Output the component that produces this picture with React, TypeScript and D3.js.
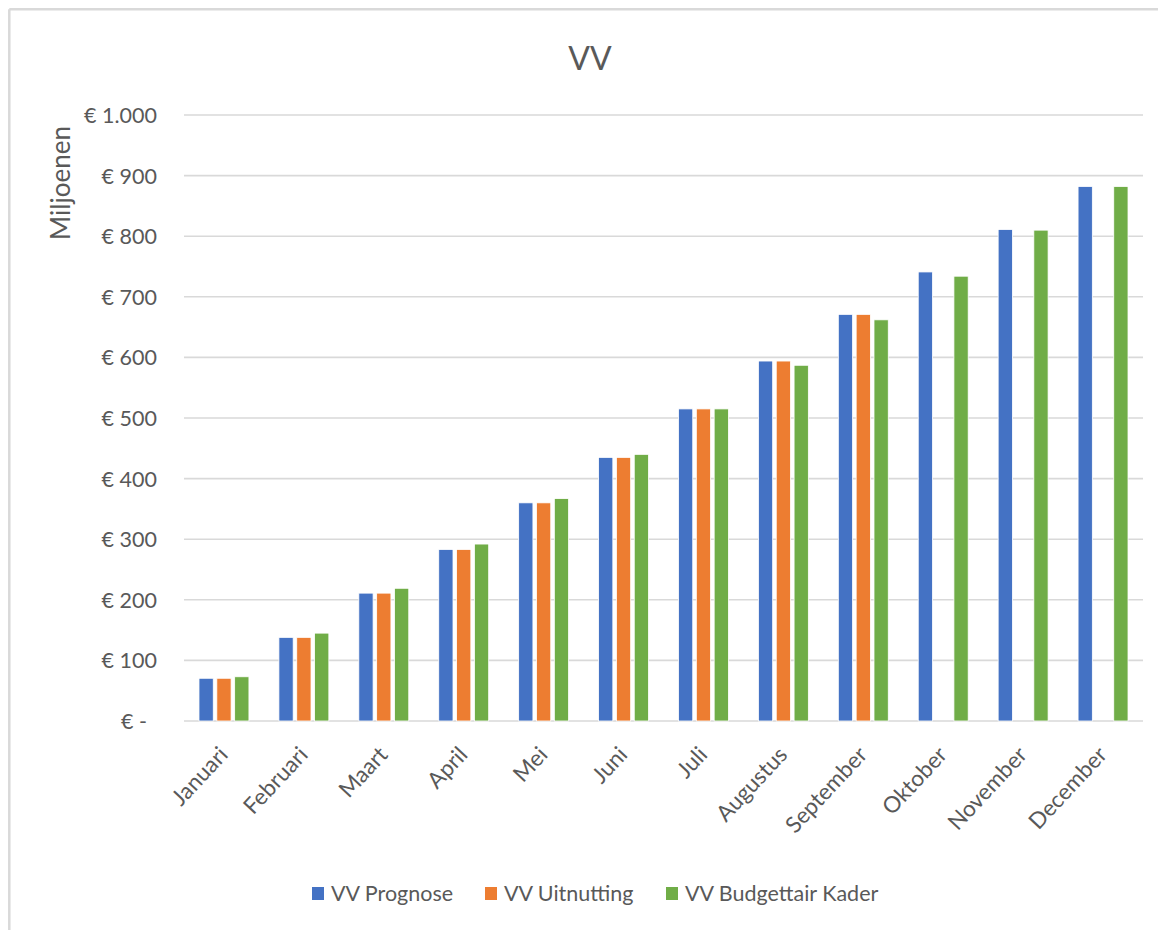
import React from "react";
import * as d3 from "d3";

const months = ["Januari","Februari","Maart","April","Mei","Juni","Juli","Augustus","September","Oktober","November","December"];
const seriesNames = ["VV Prognose","VV Uitnutting","VV Budgettair Kader"];
const prognose = [70.5, 138, 211, 283, 360, 435, 515, 594, 671, 741, 811, 882];
const uitnutting: (number | null)[] = [70.5, 138, 211, 283, 360, 435, 515, 594, 671, null, null, null];
const kader = [73, 145, 219, 292, 367, 440, 515, 587, 662, 734, 810, 882];
const yTicks = [0, 100, 200, 300, 400, 500, 600, 700, 800, 900, 1000];
const colors = ["#4472C4", "#ED7D31", "#70AD47"];

const W = 1158, H = 930;
const FONT = "Lato, 'Open Sans', sans-serif";
const TEXT = "#595959";

function fmt(v: number) {
  if (v === 0) return "€ -";
  return "€ " + d3.format(",")(v).replace(/,/g, ".");
}

export default function App() {
  const x = d3.scaleBand<string>().domain(months).range([184, 1143]).paddingInner(0.375).paddingOuter(0.1875);
  const xs = d3.scaleBand<string>().domain(seriesNames).range([0, x.bandwidth()]).paddingInner(0.2).paddingOuter(0);
  const y = d3.scaleLinear().domain([0, 1000]).range([721, 115]);
  const data = [prognose, uitnutting, kader];

  const legendX = [312, 485, 666];

  return (
    <svg width={W} height={H} style={{ position: "absolute", left: 0, top: 0, background: "#fff" }}>
      <rect x={0} y={0} width={W} height={H} fill="#fff" />
      <line x1={9.3} y1={9.3} x2={W} y2={9.3} stroke="#d9d9d9" strokeWidth={2.5} />
      <line x1={9.3} y1={9.3} x2={9.3} y2={H} stroke="#d9d9d9" strokeWidth={2.5} />
      <text x={590} y={57} textAnchor="middle" dominantBaseline="central" fontFamily={FONT} fontSize={32} fill={TEXT}>VV</text>
      <text transform={`translate(60,183) rotate(-90)`} textAnchor="middle" dominantBaseline="central" fontFamily={FONT} fontSize={26} fill={TEXT}>Miljoenen</text>
      {yTicks.map((t) => (
        <g key={t}>
          <line x1={184} x2={1143} y1={y(t)} y2={y(t)} stroke="#d9d9d9" strokeWidth={1.6} />
          <text x={t === 0 ? 147 : 157} y={y(t)} textAnchor="end" dominantBaseline="central" fontFamily={FONT} fontSize={21.5} fill={TEXT}>{fmt(t)}</text>
        </g>
      ))}
      {data.map((arr, si) => (
        <g key={si}>
          {arr.map((v, mi) => v == null ? null : (
            <rect key={mi}
              x={(x(months[mi]) as number) + (xs(seriesNames[si]) as number)}
              y={y(v)}
              width={xs.bandwidth()}
              height={y(0) - y(v)}
              fill={colors[si]}
              stroke="#fff" strokeWidth={0.8} />
          ))}
        </g>
      ))}
      {months.map((m) => {
        const cx = (x(m) as number) + x.bandwidth() / 2;
        return (
          <text key={m} transform={`translate(${cx - 1},${750}) rotate(-47)`} textAnchor="end" dominantBaseline="central" fontFamily={FONT} fontSize={22.5} fill={TEXT}>{m}</text>
        );
      })}
      {seriesNames.map((s, i) => (
        <g key={s}>
          <rect x={legendX[i]} y={887} width={12} height={13} fill={colors[i]} />
          <text x={legendX[i] + 19} y={893} dominantBaseline="central" fontFamily={FONT} fontSize={21.5} fill={TEXT}>{s}</text>
        </g>
      ))}
    </svg>
  );
}
